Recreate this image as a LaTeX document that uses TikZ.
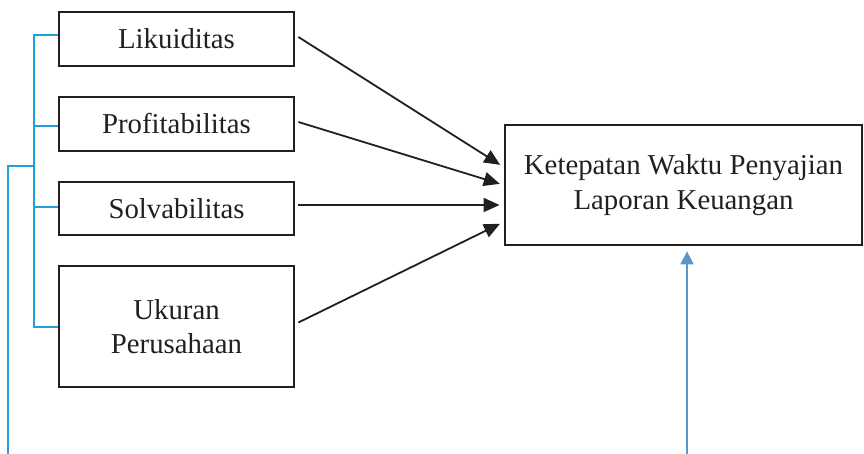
\documentclass[tikz,border=0pt]{standalone}
\usepackage{fontspec}
\setmainfont{Liberation Serif}
\usetikzlibrary{arrows.meta,calc}
\definecolor{boxline}{HTML}{231F20}
\definecolor{bracketblue}{HTML}{1EA0DC}
\definecolor{steel}{HTML}{5B96C8}
\begin{document}
\begin{tikzpicture}[x=1pt,y=-1pt,
  varbox/.style={draw=boxline,line width=2.8pt,minimum width=235pt,align=center,inner sep=0pt,
    font=\fontsize{28.8}{34.5}\selectfont,text=boxline},
  conn/.style={draw=boxline,line width=1.8pt,-{Triangle[length=16pt,width=14pt]},shorten >=4pt},
  bracket/.style={draw=bracketblue,line width=1.5pt}]
\useasboundingbox (0,0) rectangle (864,454);
\node[varbox,minimum height=54pt] (L1) at (176.5,39) {Likuiditas};
\node[varbox,minimum height=54pt] (L2) at (176.5,124) {Profitabilitas};
\node[varbox,minimum height=53pt] (L3) at (176.5,208.5) {Solvabilitas};
\node[varbox,minimum height=121pt] (L4) at (176.5,326.5) {Ukuran\\Perusahaan};
\node[varbox,minimum width=357pt,minimum height=120pt] (T) at (683.5,185) {Ketepatan Waktu Penyajian\\Laporan Keuangan};
% arrows
\draw[conn] ([xshift=3pt,yshift=2pt]L1.east) -- ([yshift=18pt]T.west);
\draw[conn] ([xshift=3pt,yshift=2pt]L2.east) -- ([yshift=0pt]T.west);
\draw[conn] ([xshift=3pt,yshift=3.5pt]L3.east) -- ([yshift=-20pt]T.west);
\draw[conn] ([xshift=3pt,yshift=4pt]L4.east) -- ([yshift=-37pt]T.west);
% blue bracket
\coordinate (BJ) at (34,166);
\coordinate (BE) at (8,454);
\draw[bracket] ([yshift=4pt]L1.west) -- (34,35) -- (34,327) -- ([yshift=-0.5pt]L4.west);
\draw[bracket] (34,126) -- ([yshift=-2pt]L2.west);
\draw[bracket] (34,207) -- ([yshift=1.5pt]L3.west);
\draw[bracket] (BJ) -- (8,166) -- (BE);
% bottom arrow
\coordinate (BA) at (687,454);
\draw[draw=steel,line width=1.8pt,-{Triangle[length=13pt,width=13pt]},shorten >=5pt] (BA) -- (BA |- T.south);
\end{tikzpicture}
\end{document}
